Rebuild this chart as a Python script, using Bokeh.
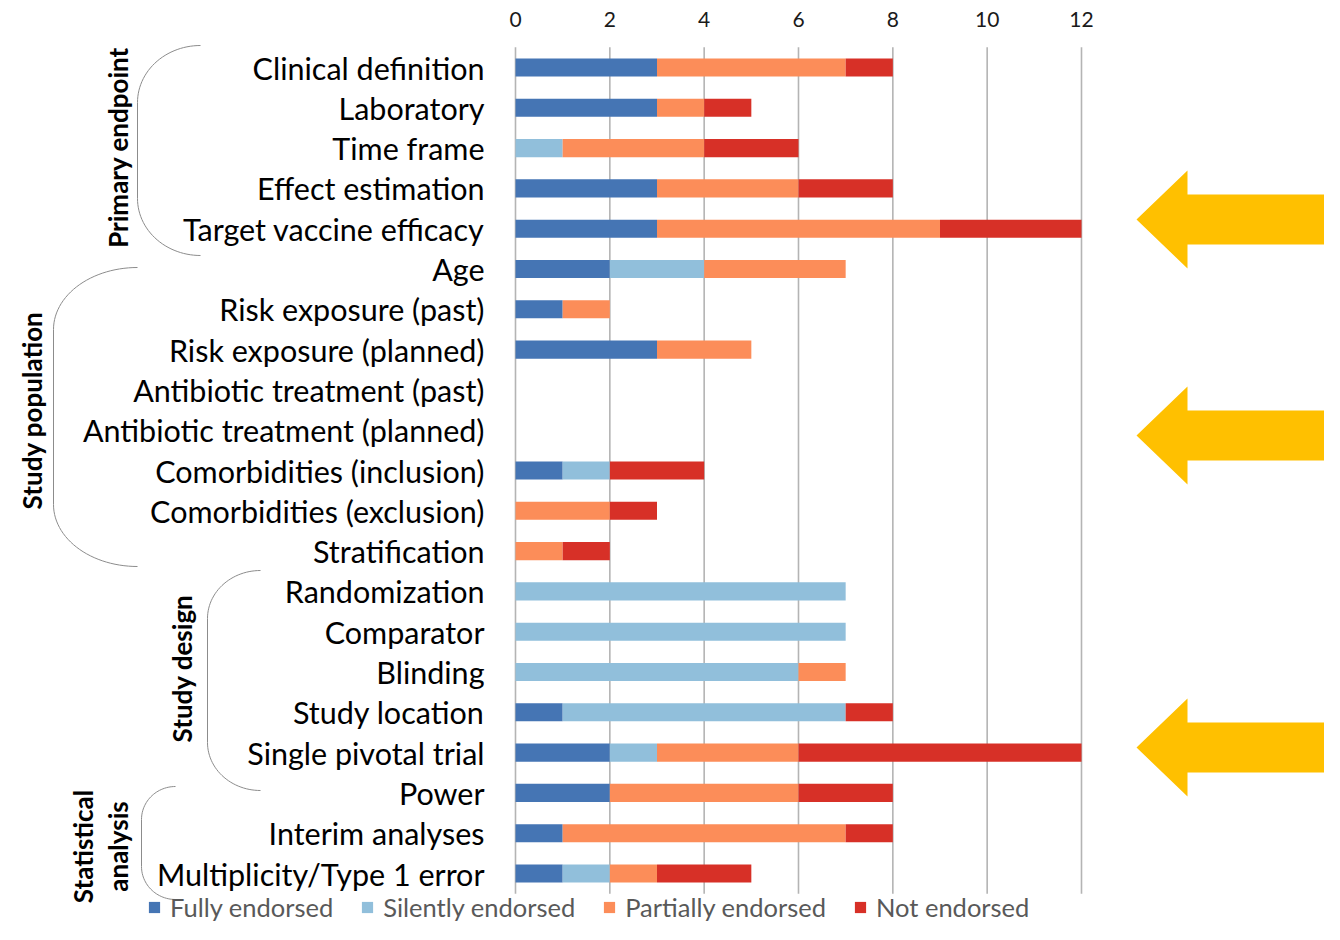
import numpy as np
from bokeh.plotting import figure
from bokeh.models import ColumnDataSource, Range1d, LinearAxis, FixedTicker
from bokeh.core.properties import value
from bokeh.embed import file_html
from bokeh.resources import INLINE

# ---------------- data ----------------
categories = [
    "Clinical definition", "Laboratory", "Time frame", "Effect estimation",
    "Target vaccine efficacy", "Age", "Risk exposure (past)", "Risk exposure (planned)",
    "Antibiotic treatment (past)", "Antibiotic treatment (planned)",
    "Comorbidities (inclusion)", "Comorbidities (exclusion)", "Stratification",
    "Randomization", "Comparator", "Blinding", "Study location", "Single pivotal trial",
    "Power", "Interim analyses", "Multiplicity/Type 1 error",
]
fully     = [3, 3, 0, 3, 3, 2, 1, 3, 0, 0, 1, 0, 0, 0, 0, 0, 1, 2, 2, 1, 1]
silently  = [0, 0, 1, 0, 0, 2, 0, 0, 0, 0, 1, 0, 0, 7, 7, 6, 6, 1, 0, 0, 1]
partially = [4, 1, 3, 3, 6, 3, 1, 2, 0, 0, 0, 2, 1, 0, 0, 1, 0, 3, 4, 6, 1]
not_end   = [1, 1, 2, 2, 3, 0, 0, 0, 0, 0, 2, 1, 1, 0, 0, 0, 1, 6, 2, 1, 2]
series_names = ["Fully endorsed", "Silently endorsed", "Partially endorsed", "Not endorsed"]
x_ticks = [0, 2, 4, 6, 8, 10, 12]
groups = [  # (label lines, first row, last row)
    (["Primary endpoint"], 0, 4),
    (["Study population"], 5, 12),
    (["Study design"], 13, 17),
    (["Statistical", "analysis"], 18, 20),
]

# ---------------- layout helpers ----------------
colors = ["#4575b4", "#91bfdb", "#fc8d59", "#d73027"]
FONT = "Lato"
W, H = 1324, 924
PPU = (1081 - 515) / 12.0         # px per x unit
RS = (873 - 67) / 20.0            # px per row
X0 = 515                          # canvas px of x = 0
Y0 = 67                           # canvas px of row 0
TOP = 44                          # canvas px of frame top

def dx(px):
    return (px - X0) / PPU

def dy(py):
    return (py - Y0) / RS

rows = list(range(len(categories)))
n = len(categories)
source = ColumnDataSource(dict(y=rows, cat=categories, f=fully, s=silently, p=partially, n=not_end))

p = figure(width=W, height=H, output_backend="svg", toolbar_location=None,
           x_range=Range1d(dx(0), dx(W)),
           y_range=Range1d(dy(H), dy(TOP)),
           x_axis_location=None, y_axis_location=None,
           min_border_left=0, min_border_right=0, min_border_bottom=0, min_border_top=TOP)
p.outline_line_color = None
p.xgrid.visible = False
p.ygrid.visible = False
p.background_fill_color = "white"

# top axis
ax = LinearAxis(ticker=FixedTicker(ticks=x_ticks))
ax.axis_line_color = None
ax.major_tick_line_color = None
ax.minor_tick_line_color = None
ax.major_tick_out = 0
ax.major_tick_in = 0
ax.major_label_standoff = 18
ax.major_label_text_font = FONT
ax.major_label_text_font_size = "21px"
ax.major_label_text_color = "#1a1a1a"
p.add_layout(ax, "above")

# vertical gridlines
p.segment(x0=x_ticks, x1=x_ticks, y0=[-0.5] * len(x_ticks), y1=[n - 0.5] * len(x_ticks),
          line_color="#b4b4b4", line_width=1.6)

# stacked bars
p.hbar_stack(["f", "s", "p", "n"], y="y", height=0.45, color=colors,
             line_color=None, source=source, legend_label=series_names)

# category labels
p.text(x=[dx(484)] * n, y=rows, text=categories, text_align="right", text_baseline="middle",
       text_font=value(FONT), text_font_size="30.5px", text_color="#000000")

# braces
brace_geom = [  # left px, right px, top py, bottom py, corner ry
    (137, 200, 45, 255, 57),
    (53, 137, 267, 566, 62),
    (207, 260, 570, 790, 48),
    (141, 175, 786, 899, 33),
]
label_pos = [  # x px of each text line, y px of centre
    ([117], 147),
    ([31], 410),
    ([181], 668),
    ([82, 117], 846),
]
bx, by = [], []
for (l, r, t, b, ry) in brace_geom:
    rx = r - l
    th1 = np.linspace(np.pi / 2, np.pi, 30)
    th2 = np.linspace(np.pi, 1.5 * np.pi, 30)
    xs = np.concatenate([r + rx * np.cos(th1), r + rx * np.cos(th2)])
    ys = np.concatenate([(t + ry) - ry * np.sin(th1), (b - ry) - ry * np.sin(th2)])
    bx.append([dx(v) for v in xs])
    by.append([dy(v) for v in ys])
p.multi_line(xs=bx, ys=by, line_color="#8c8c8c", line_width=1)

gx, gy, gt = [], [], []
for (lines, r0, r1), (xs_px, yc) in zip(groups, label_pos):
    for line, xp in zip(lines, xs_px):
        gx.append(dx(xp)); gy.append(dy(yc)); gt.append(line)
p.text(x=gx, y=gy, text=gt, angle=np.pi / 2, text_align="center", text_baseline="middle",
       text_font=value(FONT), text_font_style="bold", text_font_size="26px", text_color="#000000")

# highlight arrows
arrow_py = [219, 435, 747]
ax_, ay_ = [], []
for c in arrow_py:
    tip, head, right, hh, sh = 1136, 1187, 1340, 49, 25
    pts_x = [tip, head, head, right, right, head, head]
    pts_y = [c, c - hh, c - sh, c - sh, c + sh, c + sh, c + hh]
    ax_.append([dx(v) for v in pts_x])
    ay_.append([dy(v) for v in pts_y])
p.patches(xs=ax_, ys=ay_, fill_color="#ffc000", line_color=None)

# legend
leg = p.legend[0]
leg.orientation = "horizontal"
leg.location = (147, 2)
leg.padding = 0
leg.margin = 0
leg.spacing = 27
leg.label_standoff = 9
leg.glyph_width = 14
leg.glyph_height = 14
leg.label_height = 14
leg.border_line_color = None
leg.background_fill_alpha = 0
leg.label_text_font = FONT
leg.label_text_font_size = "25.5px"
leg.label_text_color = "#595959"

open("out.html", "w").write(file_html(p, INLINE))
